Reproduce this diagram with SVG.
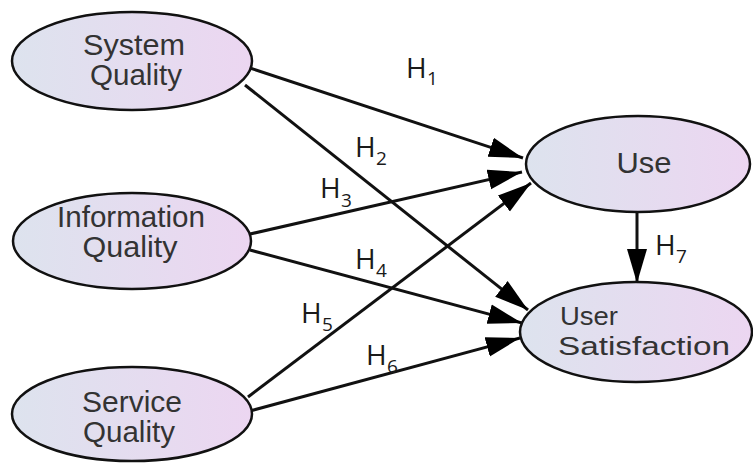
<svg xmlns="http://www.w3.org/2000/svg" width="753" height="463" viewBox="0 0 753 463">
  <style>
    .node ellipse { fill: url(#grad); stroke: #111; stroke-width: 2.5; }
    .lbl { font-family: "Liberation Sans", Arial, sans-serif; font-size: 29px; fill: #333; }
    .sm { font-size: 26px; }
    .mid { text-anchor: middle; }
    .edge { stroke: #111; stroke-width: 3; fill: none; marker-end: url(#arrow); }
    .h { font-family: "Open Sans", "Liberation Sans", sans-serif; font-size: 28px; fill: #1a1a1a; }
    .sub { font-size: 19px; }
  </style>
  <defs>
    <linearGradient id="grad" x1="0" y1="0" x2="1" y2="0">
      <stop offset="0" stop-color="#dde3ee"/>
      <stop offset="1" stop-color="#ecd6f1"/>
    </linearGradient>
    <marker id="arrow" markerUnits="userSpaceOnUse" markerWidth="36" markerHeight="22" refX="34" refY="11" orient="auto">
      <path d="M0,1 L34,11 L0,21 z" fill="#000"/>
    </marker>
  </defs>
  <rect width="753" height="463" fill="#fff"/>

  <g id="connectors">
    <line class="edge" x1="250" y1="68" x2="523" y2="158"/>
    <line class="edge" x1="245" y1="85" x2="528" y2="310"/>
    <line class="edge" x1="250" y1="234" x2="522" y2="172"/>
    <line class="edge" x1="250" y1="250" x2="522" y2="323"/>
    <line class="edge" x1="248" y1="397" x2="531" y2="183"/>
    <line class="edge" x1="250" y1="411" x2="520" y2="338"/>
    <line class="edge" x1="637" y1="213" x2="637" y2="283"/>
  </g>

  <g id="system-quality" class="node">
    <ellipse cx="132" cy="61" rx="120" ry="49"/>
    <text class="lbl mid" x="134" y="55" textLength="102" lengthAdjust="spacingAndGlyphs">System</text>
    <text class="lbl mid" x="136" y="85" textLength="92" lengthAdjust="spacingAndGlyphs">Quality</text>
  </g>
  <g id="information-quality" class="node">
    <ellipse cx="132" cy="241" rx="119" ry="48"/>
    <text class="lbl mid" x="131" y="227" textLength="148" lengthAdjust="spacingAndGlyphs">Information</text>
    <text class="lbl mid" x="130" y="257" textLength="95" lengthAdjust="spacingAndGlyphs">Quality</text>
  </g>
  <g id="service-quality" class="node">
    <ellipse cx="132" cy="414" rx="120" ry="47"/>
    <text class="lbl mid" x="132" y="412" textLength="100" lengthAdjust="spacingAndGlyphs">Service</text>
    <text class="lbl mid" x="129" y="442" textLength="92" lengthAdjust="spacingAndGlyphs">Quality</text>
  </g>
  <g id="use" class="node">
    <ellipse cx="638" cy="164" rx="112" ry="48"/>
    <text class="lbl mid" x="644" y="173" textLength="55" lengthAdjust="spacingAndGlyphs">Use</text>
  </g>
  <g id="user-satisfaction" class="node">
    <ellipse cx="636" cy="332" rx="116" ry="50"/>
    <text class="lbl sm" x="560" y="325" textLength="58" lengthAdjust="spacingAndGlyphs">User</text>
    <text class="lbl sm" x="558" y="355" textLength="172" lengthAdjust="spacingAndGlyphs">Satisfaction</text>
  </g>

  <g id="labels">
    <text class="h" x="406" y="78">H<tspan class="sub" x="427" y="85">1</tspan></text>
    <text class="h" x="355" y="157">H<tspan class="sub" x="376" y="165">2</tspan></text>
    <text class="h" x="320" y="198">H<tspan class="sub" x="341" y="207">3</tspan></text>
    <text class="h" x="355" y="269">H<tspan class="sub" x="376" y="277">4</tspan></text>
    <text class="h" x="301" y="323">H<tspan class="sub" x="322" y="331">5</tspan></text>
    <text class="h" x="366" y="365">H<tspan class="sub" x="387" y="373">6</tspan></text>
    <text class="h" x="655" y="255">H<tspan class="sub" x="676" y="263">7</tspan></text>
  </g>
</svg>
